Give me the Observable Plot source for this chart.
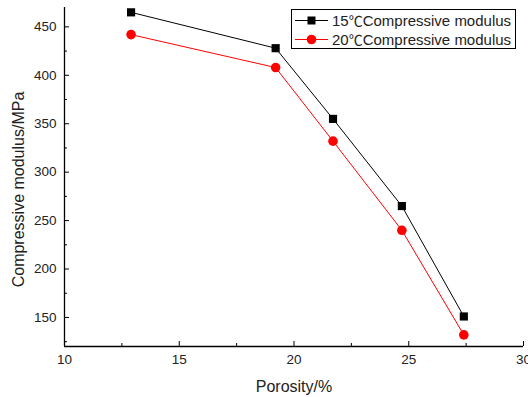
<!DOCTYPE html>
<html>
<head>
<meta charset="utf-8">
<script src="https://cdn.jsdelivr.net/npm/d3@7"></script>
<script src="https://cdn.jsdelivr.net/npm/@observablehq/plot@0.6"></script>
<style>
  html, body { margin: 0; padding: 0; background: #fff; }
  #wrap { position: relative; width: 528px; height: 397px; font-family: "Liberation Sans", Arial, "Noto Sans CJK SC", sans-serif; }
  #legend { position: absolute; left: 291px; top: 9px; width: 225px; height: 40px; border: 1px solid #000; background: #fff; box-sizing: border-box; }
  .row { position: absolute; left: 0; height: 19px; line-height: 19px; display: flex; align-items: center; font-size: 15px; color: #222; white-space: nowrap; }
  .row svg { display: block; margin-left: 3px; margin-right: 4px; }
  .deg { font-family: "Noto Sans CJK SC", sans-serif; font-size: 14px; line-height: 19px; }
</style>
</head>
<body>
<div id="wrap"></div>
<script>
const porosity = [12.9, 19.2, 21.7, 24.7, 27.4];
const modulus15 = [465, 428, 355, 265, 151];
const modulus20 = [442, 408, 332, 240, 132];
const seriesTemps = ["15", "20"];
const seriesUnit = "℃";
const seriesText = "Compressive modulus";
const seriesColors = ["#000000", "#ff0000"];
const xTicks = [10, 15, 20, 25, 30];
const xMinor = [12.5, 17.5, 22.5, 27.5];
const yTicks = [150, 200, 250, 300, 350, 400, 450];
const yMinor = [125, 175, 225, 275, 325, 375, 425];
const xLabel = "Porosity/%";
const yLabel = "Compressive modulus/MPa";

const d15 = porosity.map((p, i) => ({x: p, y: modulus15[i]}));
const d20 = porosity.map((p, i) => ({x: p, y: modulus20[i]}));

const font = "Liberation Sans, Arial, sans-serif";
const chart = Plot.plot({
  width: 528,
  height: 397,
  marginLeft: 64,
  marginRight: 5,
  marginTop: 7,
  marginBottom: 51,
  style: {fontFamily: font, background: "#fff", color: "#222"},
  x: {domain: [10, 30], axis: null},
  y: {domain: [120, 470], axis: null},
  marks: [
    Plot.ruleY([120], {stroke: "#000", strokeWidth: 1.3}),
    Plot.ruleX([10], {stroke: "#000", strokeWidth: 1.3}),
    Plot.axisX({ticks: xTicks, tickSize: -5, text: null, label: null, stroke: "#000"}),
    Plot.axisX({ticks: xMinor, tickSize: -3, text: null, label: null, stroke: "#000"}),
    Plot.axisX({ticks: xTicks, tickSize: 0, tickPadding: 8, fontSize: 13.5, fill: "#222", label: null, tickFormat: d => d}),
    Plot.axisY({ticks: yTicks, tickSize: -5, text: null, label: null, stroke: "#000"}),
    Plot.axisY({ticks: yMinor, tickSize: -3, text: null, label: null, stroke: "#000"}),
    Plot.axisY({ticks: yTicks, tickSize: 0, tickPadding: 8, fontSize: 13.5, fill: "#222", label: null, tickFormat: d => d}),
    Plot.line(d15, {x: "x", y: "y", stroke: seriesColors[0], strokeWidth: 1}),
    Plot.line(d20, {x: "x", y: "y", stroke: seriesColors[1], strokeWidth: 1}),
    Plot.dot(d15, {x: "x", y: "y", symbol: "square", r: 4.6, fill: seriesColors[0], stroke: null}),
    Plot.dot(d20, {x: "x", y: "y", symbol: "circle", r: 4.8, fill: seriesColors[1], stroke: null}),
    Plot.text([xLabel], {frameAnchor: "bottom", dy: 40, lineAnchor: "middle", textAnchor: "middle", fontSize: 16, fill: "#222"}),
    Plot.text([yLabel], {frameAnchor: "left", rotate: -90, dx: -46, dy: 12.5, lineAnchor: "middle", textAnchor: "middle", fontSize: 16, fill: "#222"})
  ]
});

const wrap = document.getElementById("wrap");
wrap.appendChild(chart);

const legend = document.createElement("div");
legend.id = "legend";
seriesTemps.forEach((t, i) => {
  const row = document.createElement("div");
  row.className = "row";
  row.style.top = (i === 0 ? 1 : 20) + "px";
  const sym = i === 0
    ? `<rect x="12.5" y="5.5" width="8" height="8" fill="${seriesColors[i]}"/>`
    : `<circle cx="16.5" cy="9.5" r="4.8" fill="${seriesColors[i]}"/>`;
  row.innerHTML = `<svg width="33" height="19"><line x1="0" x2="33" y1="9.5" y2="9.5" stroke="${seriesColors[i]}" stroke-width="1"/>${sym}</svg><span>${t}<span class="deg">${seriesUnit}</span>${seriesText}</span>`;
  legend.appendChild(row);
});
wrap.appendChild(legend);
</script>
</body>
</html>
